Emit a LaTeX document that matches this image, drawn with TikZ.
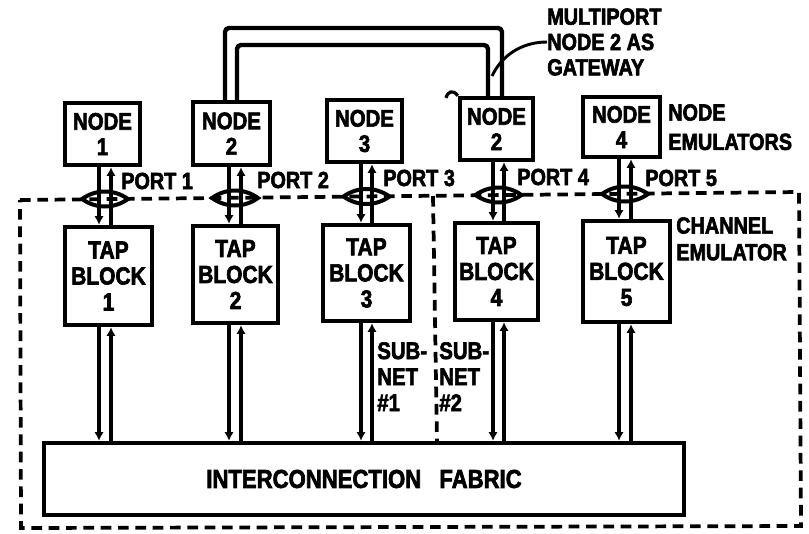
\documentclass[tikz,border=0pt]{standalone}
\usepackage{fontspec}
\setmainfont{Liberation Sans}[FakeStretch=0.85, FakeBold=2.5]
\usetikzlibrary{arrows.meta}
\tikzset{
  box/.style={draw, line width=3.3pt, inner sep=0pt, align=center, font=\bfseries\fontsize{18}{19}\selectfont},
  tapbox/.style={draw, line width=3.3pt, inner sep=0pt, align=center, font=\bfseries\fontsize{18.5}{19.5}\selectfont},
  lbl/.style={inner sep=0pt, align=left, font=\bfseries\fontsize{17.5}{18}\selectfont},
  conn/.style={line width=3pt, -{Latex[length=6.5pt,width=7pt]}},
  wire/.style={line width=3.3pt, line join=round},
  dashbox/.style={line width=2.8pt, dash pattern=on 8pt off 5pt},
  lens/.style={line width=3pt},
}
\begin{document}
\begin{tikzpicture}[x=0.75pt,y=-0.75pt]
\useasboundingbox (0,0) rectangle (809,533);

% channel emulator dashed boundary
\draw[dashbox] (20,200) -- (799,192) -- (801,526) -- (21,528) -- cycle;
\draw[dashbox] (433,196) -- (437,443);

% node emulators
\node[box, minimum width=56.25pt, minimum height=46.5pt]  (n1)  at (102.5,134) {NODE\\1};
\node[box, minimum width=57.75pt, minimum height=47.25pt] (n2)  at (231.5,133.5) {NODE\\2};
\node[box, minimum width=56.25pt, minimum height=46.5pt]  (n3)  at (364.5,131) {NODE\\3};
\node[box, minimum width=54.75pt, minimum height=46.5pt]  (n2b) at (496.5,129) {NODE\\2};
\node[box, minimum width=57.75pt, minimum height=45pt]    (n4)  at (621.5,127) {NODE\\4};

% tap blocks
\node[tapbox, minimum width=65.25pt, minimum height=73.5pt]  (t1) at (108.5,276) {TAP\\BLOCK\\1};
\node[tapbox, minimum width=63.75pt, minimum height=72.75pt] (t2) at (235.5,274.5) {TAP\\BLOCK\\2};
\node[tapbox, minimum width=65.25pt, minimum height=72pt]    (t3) at (366.5,273) {TAP\\BLOCK\\3};
\node[tapbox, minimum width=62.25pt, minimum height=72.75pt] (t4) at (496.5,271.5) {TAP\\BLOCK\\4};
\node[tapbox, minimum width=65.25pt, minimum height=75.75pt] (t5) at (626.5,271.5) {TAP\\BLOCK\\5};

% interconnection fabric
\node[draw, line width=3.3pt, inner sep=0pt, minimum width=480pt, minimum height=54pt,
      font=\bfseries\fontsize{19.5}{20}\selectfont] (fab) at (364,479) {INTERCONNECTION\hspace{0.7em}FABRIC};

% lenses (ports) on the boundary
\foreach \cx/\cy in {105/199, 235/198, 366.5/196.5, 498.5/195, 625/194}{
  \draw[lens] (\cx-23,\cy) .. controls (\cx-9,\cy-10) and (\cx+9,\cy-10) .. (\cx+23,\cy)
              .. controls (\cx+9,\cy+10) and (\cx-9,\cy+10) .. cycle;
}

% line x positions
\coordinate (a1) at (99,0);  \coordinate (b1) at (111,0);
\coordinate (a2) at (229,0); \coordinate (b2) at (241,0);
\coordinate (a3) at (361,0); \coordinate (b3) at (372,0);
\coordinate (a4) at (493,0); \coordinate (b4) at (504,0);
\coordinate (a5) at (619,0); \coordinate (b5) at (631,0);

% node <-> tap block
\draw[conn] (a1 |- n1.south)  -- (a1 |- t1.north);
\draw[conn] (b1 |- t1.north)  -- (b1 |- n1.south);
\draw[conn] (a2 |- n2.south)  -- (a2 |- t2.north);
\draw[conn] (b2 |- t2.north)  -- (b2 |- n2.south);
\draw[conn] (a3 |- n3.south)  -- (a3 |- t3.north);
\draw[conn] (b3 |- t3.north)  -- (b3 |- n3.south);
\draw[conn] (a4 |- n2b.south) -- (a4 |- t4.north);
\draw[conn] (b4 |- t4.north)  -- (b4 |- n2b.south);
\draw[conn] (a5 |- n4.south)  -- (a5 |- t5.north);
\draw[conn] (b5 |- t5.north)  -- (b5 |- n4.south);

% tap block <-> fabric
\draw[conn] (a1 |- t1.south) -- (a1 |- fab.north);
\draw[conn] (b1 |- fab.north) -- (b1 |- t1.south);
\draw[conn] (a2 |- t2.south) -- (a2 |- fab.north);
\draw[conn] (b2 |- fab.north) -- (b2 |- t2.south);
\draw[conn] (a3 |- t3.south) -- (a3 |- fab.north);
\draw[conn] (b3 |- fab.north) -- (b3 |- t3.south);
\draw[conn] (a4 |- t4.south) -- (a4 |- fab.north);
\draw[conn] (b4 |- fab.north) -- (b4 |- t4.south);
\draw[conn] (a5 |- t5.south) -- (a5 |- fab.north);
\draw[conn] (b5 |- fab.north) -- (b5 |- t5.south);

% multiport loop between node 2 and node 2
\coordinate (lo1) at (225,28); \coordinate (lo2) at (502,28);
\coordinate (li1) at (237,45); \coordinate (li2) at (488,45);
\draw[wire, rounded corners=3pt] (lo1 |- n2.north) -- (lo1) -- (lo2) -- (lo2 |- n2b.north);
\draw[wire, rounded corners=3pt] (li1 |- n2.north) -- (li1) -- (li2) -- (li2 |- n2b.north);
\draw[line width=2.4pt] (n2b.north west) .. controls +(-5,-7) and +(2,-6) .. +(-12,2);

% labels
\node[lbl, anchor=west, font=\bfseries\fontsize{17.5}{19}\selectfont] (gw) at (547,42) {MULTIPORT\\NODE 2 AS\\GATEWAY};
\coordinate (gwend) at (492,76);
\draw[line width=2.2pt] (gw.west) .. controls (522,42) and (502,55) .. (gwend);

\node[lbl, anchor=west] (p1) at (121,181) {PORT 1};
\node[lbl, anchor=west] (p2) at (257,180) {PORT 2};
\node[lbl, anchor=west] (p3) at (383,178) {PORT 3};
\node[lbl, anchor=west] (p4) at (517,177) {PORT 4};
\node[lbl, anchor=west] (p5) at (645,178) {PORT 5};

\node[lbl, anchor=north west, font=\bfseries\fontsize{17.5}{22}\selectfont] (ne) at (668,104) {NODE\\EMULATORS};
\node[lbl, anchor=north west, font=\bfseries\fontsize{17.5}{20}\selectfont] (ce) at (676,217) {CHANNEL\\EMULATOR};

\node[lbl, anchor=north west, font=\bfseries\fontsize{18}{19.5}\selectfont] (s1) at (377,342) {SUB-\\NET\\\#1};
\node[lbl, anchor=north west, font=\bfseries\fontsize{18}{19.5}\selectfont] (s2) at (439,342) {SUB-\\NET\\\#2};
\end{tikzpicture}
\end{document}
